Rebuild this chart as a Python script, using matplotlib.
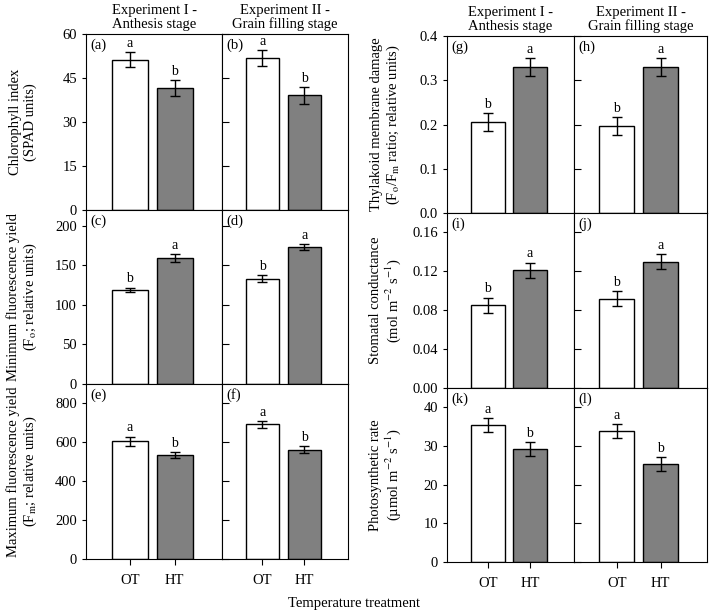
import numpy as np
import matplotlib
matplotlib.use("Agg")
import matplotlib.pyplot as plt

plt.rcParams['font.family'] = ['Liberation Serif', 'DejaVu Serif']
plt.rcParams['mathtext.fontset'] = 'stix'
plt.rcParams['font.size'] = 10

treatments = ["OT", "HT"]
experiments = ["Experiment I -\nAnthesis stage", "Experiment II -\nGrain filling stage"]

# [experiment][treatment]
spad_mean = [[51.2, 41.6], [51.8, 39.1]]
spad_err = [[2.6, 2.8], [2.7, 2.8]]
spad_sig = [["a", "b"], ["a", "b"]]

fo_mean = [[119, 159], [133, 173]]
fo_err = [[3, 5], [4.5, 4]]
fo_sig = [["b", "a"], ["b", "a"]]

fm_mean = [[605, 533], [692, 563]]
fm_err = [[25, 15], [17, 20]]
fm_sig = [["a", "b"], ["a", "b"]]

fofm_mean = [[0.205, 0.330], [0.197, 0.330]]
fofm_err = [[0.020, 0.020], [0.020, 0.020]]
fofm_sig = [["b", "a"], ["b", "a"]]

gs_mean = [[0.085, 0.121], [0.092, 0.130]]
gs_err = [[0.008, 0.008], [0.008, 0.008]]
gs_sig = [["b", "a"], ["b", "a"]]

pn_mean = [[35.5, 29.3], [33.8, 25.4]]
pn_err = [[1.8, 1.8], [1.8, 1.8]]
pn_sig = [["a", "b"], ["a", "b"]]

W, H = 709, 616
fig = plt.figure(figsize=(W / 100, H / 100), dpi=100)


def px_axes(x0, y0, x1, y1):
    return fig.add_axes([x0 / W, 1 - y1 / H, (x1 - x0) / W, (y1 - y0) / H])


def panel(ax, mean, err, sig, ylim, yticks, yfmt, letter, first_col, last_row):
    x = np.arange(2)
    ax.bar(x, mean, width=0.8, color=["white", "#808080"], edgecolor="black",
           linewidth=1.0, zorder=2)
    ax.errorbar(x, mean, yerr=err, fmt="none", ecolor="black", elinewidth=1.0,
                capsize=3.5, capthick=1.0, zorder=3)
    off = (ylim[1] - ylim[0]) * 0.012
    for xi, m, e, s in zip(x, mean, err, sig):
        ax.text(xi, m + e + off, s, ha="center", va="bottom", fontsize=10)
    ax.set_xlim(-0.97, 2.05)
    ax.set_ylim(*ylim)
    ax.set_yticks(yticks)
    ax.set_xticks(x)
    if last_row:
        ax.set_xticklabels(treatments, fontsize=10.5)
        ax.tick_params(axis="x", pad=7)
    else:
        ax.set_xticklabels([])
    if first_col:
        ax.set_yticklabels([yfmt.format(t) for t in yticks], fontsize=10.5)
        ax.tick_params(axis="y", direction="out", length=3, width=0.8)
    else:
        ax.set_yticklabels([])
        ax.tick_params(axis="y", direction="in", length=5, width=0.8)
    ax.tick_params(axis="x", direction="out", length=4, width=0.8)
    for sp in ax.spines.values():
        sp.set_linewidth(0.8)
    ax.text(0.035, 0.975, letter, transform=ax.transAxes, ha="left", va="top",
            fontsize=10.5)


left_vars = [
    (spad_mean, spad_err, spad_sig, (0, 60), [0, 15, 30, 45, 60], "{:g}",
     "Chlorophyll index\n(SPAD units)", ["(a)", "(b)"]),
    (fo_mean, fo_err, fo_sig, (0, 220), [0, 50, 100, 150, 200], "{:g}",
     "Minimum fluorescence yield\n(F$_{\\rm o}$; relative units)", ["(c)", "(d)"]),
    (fm_mean, fm_err, fm_sig, (0, 900), [0, 200, 400, 600, 800], "{:g}",
     "Maximum fluorescence yield\n(F$_{\\rm m}$; relative units)", ["(e)", "(f)"]),
]
right_vars = [
    (fofm_mean, fofm_err, fofm_sig, (0, 0.4), [0.0, 0.1, 0.2, 0.3, 0.4], "{:.1f}",
     "Thylakoid membrane damage\n(F$_{\\rm o}$/F$_{\\rm m}$ ratio; relative units)",
     ["(g)", "(h)"]),
    (gs_mean, gs_err, gs_sig, (0, 0.18), [0.0, 0.04, 0.08, 0.12, 0.16], "{:.2f}",
     "Stomatal conductance\n(mol m$^{-2}$ s$^{-1}$)", ["(i)", "(j)"]),
    (pn_mean, pn_err, pn_sig, (0, 45), [0, 10, 20, 30, 40], "{:g}",
     "Photosynthetic rate\n(µmol m$^{-2}$ s$^{-1}$)", ["(k)", "(l)"]),
]

groups = [
    (left_vars, [86, 222, 348], [34, 210, 384, 559], 23),
    (right_vars, [447, 574, 707], [36, 213, 388, 562], 386),
]

for vars_, xs, ys, label_x in groups:
    for r, (mean, err, sig, ylim, yticks, yfmt, ylabel, letters) in enumerate(vars_):
        for c in range(2):
            ax = px_axes(xs[c], ys[r], xs[c + 1], ys[r + 1])
            panel(ax, mean[c], err[c], sig[c], ylim, yticks, yfmt, letters[c],
                  c == 0, r == 2)
            if r == 0:
                ax.set_title(experiments[c], fontsize=10.5, pad=4, linespacing=1.1)
        yc = 1 - (ys[r] + ys[r + 1]) / 2 / H
        fig.text(label_x / W, yc, ylabel, rotation=90, ha="center", va="center",
                 fontsize=10.5, linespacing=1.15)

fig.text(354 / W, 1 - 604 / H, "Temperature treatment", ha="center", va="center",
         fontsize=10.5)

fig.savefig("out.png", dpi=100)
